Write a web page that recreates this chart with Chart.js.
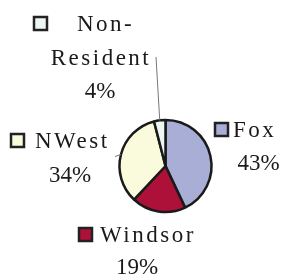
<!DOCTYPE html>
<html>
<head>
<meta charset="utf-8">
<script src="https://cdn.jsdelivr.net/npm/chart.js@4/dist/chart.umd.min.js"></script>
<style>
html,body{margin:0;padding:0;background:#fff;}
#wrap{position:relative;width:286px;height:277px;}
</style>
</head>
<body>
<div id="wrap"><canvas id="pieCanvas"></canvas></div>
<script>
const categories = ["Fox", "Windsor", "NWest", "Non-Resident"];
const shares = [43, 19, 34, 4];
const sliceColors = ["#a9aed6", "#ad1038", "#fafadc", "#eef6f2"];

// label placement, offsets from the pie centre
// box = legend square, name = [x, baseline, align] per line, pct = [x, baseline]
const labelLayout = [
  {box: [49.5, -43], name: [[67.5, -29, "left"]], pct: [93, 4]},
  {box: [-86.5, 62], name: [[-65.5, 76, "left"]], pct: [-28.5, 108]},
  {box: [-154.5, -32], name: [[-130.5, -18, "left"]], pct: [-95.5, 16]},
  {box: [-131.5, -149], name: [[-88.5, -135, "left"], [-64.5, -101, "center"]], pct: [-65.5, -68]}
];
// leader line ends (offset from pie centre), null = no line
const leaderEnds = [null, null, [-50.5, -9.5], [-9.5, -109]];

const labelPlugin = {
  id: "pieLabels",
  afterDatasetsDraw(chart) {
    const ctx = chart.ctx;
    const arcs = chart.getDatasetMeta(0).data;
    ctx.save();
    arcs.forEach((arc, i) => {
      const {x, y, startAngle, endAngle, outerRadius} = arc.getProps(["x", "y", "startAngle", "endAngle", "outerRadius"], true);
      const lay = labelLayout[i];

      // leader line
      if (leaderEnds[i]) {
        const mid = (startAngle + endAngle) / 2;
        ctx.beginPath();
        ctx.strokeStyle = "#777";
        ctx.lineWidth = 1;
        ctx.moveTo(x + Math.cos(mid) * outerRadius, y + Math.sin(mid) * outerRadius);
        ctx.lineTo(x + leaderEnds[i][0], y + leaderEnds[i][1]);
        ctx.stroke();
      }

      // legend square
      ctx.fillStyle = sliceColors[i];
      ctx.strokeStyle = "#222";
      ctx.lineWidth = 2.5;
      ctx.fillRect(x + lay.box[0], y + lay.box[1], 13, 13);
      ctx.strokeRect(x + lay.box[0], y + lay.box[1], 13, 13);

      // text
      ctx.fillStyle = "#1a1a1a";
      ctx.font = "23px 'Liberation Serif', 'Times New Roman', serif";
      const parts = categories[i].split(/(?<=-)/);
      ctx.letterSpacing = "2.5px";
      parts.forEach((p, k) => {
        const [tx, ty, al] = lay.name[k];
        ctx.textAlign = al;
        ctx.fillText(p, x + tx, y + ty);
      });
      ctx.letterSpacing = "0px";
      ctx.textAlign = "center";
      ctx.fillText(shares[i] + "%", x + lay.pct[0], y + lay.pct[1]);
    });
    ctx.restore();
  }
};

new Chart(document.getElementById("pieCanvas"), {
  type: "pie",
  data: {
    labels: categories,
    datasets: [{
      data: shares,
      backgroundColor: sliceColors,
      borderColor: "#1a1a1a",
      borderWidth: 2.5,
      radius: 46
    }]
  },
  options: {
    responsive: true,
    maintainAspectRatio: false,
    animation: false,
    layout: {padding: {left: 119.5, right: 74.5, top: 120, bottom: 65}},
    plugins: {
      legend: {display: false},
      tooltip: {enabled: false}
    }
  },
  plugins: [labelPlugin]
});
</script>
</body>
</html>
